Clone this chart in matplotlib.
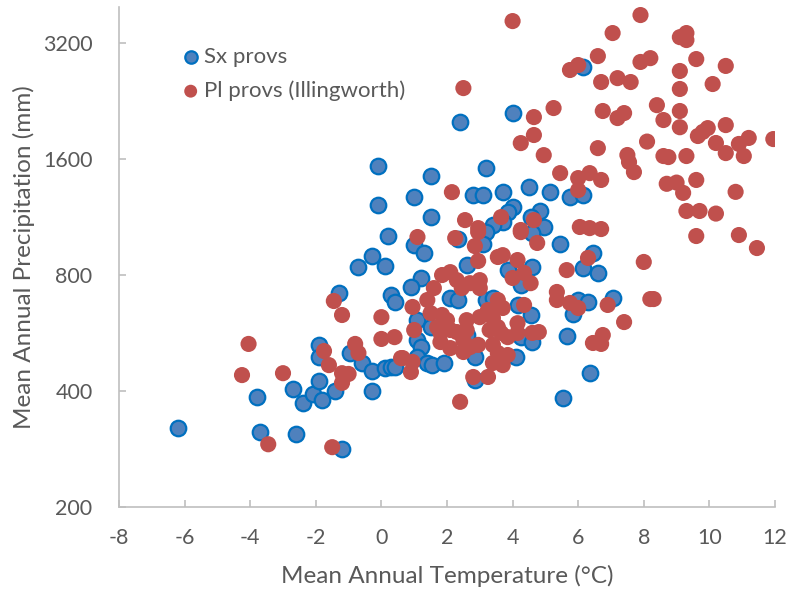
import matplotlib.pyplot as plt
from matplotlib.ticker import FixedLocator, NullLocator

# Datos
sx_temp = [-6.2, -3.8, -3.7, -2.6, -2.7, -2.4, -2.1, -1.8, -1.9, -1.4, -1.2, -0.3,
           -1.9, -1.9, -0.95, -0.6, -0.3, 0.1, 0.3, 0.4, -1.3, 0.3, 0.4, -0.7,
           -0.3, 0.1, -0.1, -0.1, 0.2, 1.0, 1.0, 1.3, 1.5, 1.5, 2.4, 1.2,
           0.9, 2.6, 2.35, 2.8, 3.1, 3.2, 3.7, 4.0, 4.5, 5.15, 5.75, 6.15,
           6.15, 4.0, 3.85, 3.7, 3.4, 3.2, 3.1, 4.85, 4.55, 4.95, 4.6, 5.45,
           6.45, 6.15, 6.6, 3.85, 4.6, 4.25, 2.1, 2.35, 3.2, 3.4, 4.15, 4.55,
           6.0, 6.3, 5.85, 7.05, 1.1, 1.5, 2.6, 4.25, 4.6, 5.65, 1.1, 1.2,
           2.85, 4.1, 1.1, 1.4, 1.55, 1.9, 2.85, 5.55, 6.35]
sx_prec = [320, 385, 313, 310, 405, 372, 393, 379, 425, 400, 283, 400,
           527, 490, 502, 473, 451, 459, 462, 462, 718, 710, 681, 839,
           896, 844, 1215, 1534, 1010, 1275, 957, 912, 1445, 1131, 1996, 786,
           745, 849, 992, 1290, 1290, 1516, 1313, 2106, 1353, 1313, 1275, 1290,
           2772, 1201, 1165, 1098, 1078, 1034, 963, 1172, 1131, 1066, 1028, 963,
           912, 834, 810, 824, 839, 754, 697, 689, 689, 697, 669, 630,
           689, 681, 634, 697, 611, 586, 559, 552, 536, 556, 542, 520,
           490, 490, 490, 473, 467, 473, 427, 384, 445]

pl_temp = [-4.25, -4.05, -3.0, -3.45, -1.5, -1.45, -1.2, 0.0, -1.75, -1.6, -0.8, -0.7,
           0.0, 0.4, 0.6, -1.2, -1.0, -1.2, 1.1, 2.25, 2.95, 4.25, 4.75, 2.85,
           2.95, 3.55, 3.7, 4.15, 5.65, 1.85, 2.1, 2.3, 2.45, 2.7, 3.0, 3.0,
           4.0, 4.35, 4.55, 1.6, 1.4, 3.55, 3.7, 4.35, 5.35, 5.35, 5.75, 6.0,
           0.95, 1.5, 1.85, 2.0, 2.6, 3.0, 3.25, 3.4, 3.55, 1.7, 1.8, 2.1,
           2.3, 2.6, 3.3, 3.65, 3.85, 4.15, 4.15, 4.6, 4.8, 1.0, 1.8, 2.1,
           2.5, 2.7, 2.95, 2.5, 3.4, 3.55, 3.85, 3.4, 3.7, 0.65, 0.95, 0.9,
           2.8, 3.25, 2.4, 2.15, 2.55, 2.95, 3.65, 4.65, 4.25, 6.05, 6.35, 6.7,
           6.3, 8.0, 5.25, 4.65, 4.65, 4.25, 4.95, 5.45, 6.0, 6.0, 2.5, 4.0,
           7.9, 7.05, 9.1, 9.3, 9.3, 6.6, 5.75, 6.0, 7.9, 8.2, 9.6, 10.5,
           6.7, 7.2, 7.6, 9.1, 9.1, 10.1, 8.4, 9.1, 6.75, 7.2, 7.4, 8.6,
           9.1, 9.65, 9.8, 9.95, 10.5, 10.9, 11.2, 11.95, 10.2, 10.5, 11.05, 6.6,
           8.1, 7.5, 7.55, 7.7, 8.6, 8.75, 9.3, 6.35, 6.7, 8.7, 9.0, 9.2,
           9.6, 10.8, 9.3, 9.7, 10.2, 9.6, 10.9, 11.45, 6.9, 8.2, 8.3, 7.4,
           6.45, 6.75, 6.7]
pl_prec = [440, 530, 445, 291, 286, 685, 630, 622, 508, 467, 530, 502,
           546, 552, 487, 445, 443, 420, 1004, 998, 1034, 1034, 969, 951,
           870, 891, 901, 875, 824, 800, 814, 776, 740, 762, 776, 740,
           786, 810, 762, 740, 689, 689, 657, 669, 723, 689, 677, 657,
           661, 637, 630, 611, 611, 622, 649, 619, 586, 586, 566, 576,
           569, 576, 576, 566, 552, 600, 566, 566, 569, 576, 536, 517,
           542, 520, 527, 505, 527, 502, 496, 473, 467, 487, 476, 448,
           435, 435, 375, 1313, 1111, 1059, 1131, 1111, 1047, 1066, 1059, 1053,
           886, 865, 2170, 2056, 1847, 1760, 1638, 1471, 1428, 1329, 2445, 3649,
           3783, 3397, 3315, 3397, 3258, 2960, 2724, 2806, 2858, 2924, 2908, 2791,
           2535, 2595, 2535, 2708, 2432, 2505, 2208, 2132, 2132, 2044, 2106, 2020,
           1935, 1836, 1882, 1925, 1960, 1751, 1815, 1803, 1761, 1658, 1629, 1708,
           1776, 1639, 1571, 1480, 1629, 1619, 1629, 1471, 1412, 1380, 1390, 1307,
           1412, 1315, 1173, 1173, 1155, 1010, 1016, 940, 669, 693, 693, 604,
           533, 559, 530]

x_ticks = [-8, -6, -4, -2, 0, 2, 4, 6, 8, 10, 12]
y_ticks = [200, 400, 800, 1600, 3200]

# Estilo
gris = "#595959"
eje = "#BFBFBF"
plt.rcParams["font.family"] = ["Lato", "DejaVu Sans"]

fig = plt.figure(figsize=(7.95, 5.96), dpi=100)
ax = fig.add_axes([0.1497, 0.1493, 0.8251, 0.839])

ax.scatter(sx_temp, sx_prec, s=125, color="#4F81BD", edgecolors="#0070C0",
           linewidths=1.6, label="Sx provs", zorder=2)
ax.scatter(pl_temp, pl_prec, s=135, color="#C0504D", edgecolors="none",
           label="Pl provs (Illingworth)", zorder=3)

ax.set_yscale("log", base=2)
ax.set_xlim(-8, 12)
ax.set_ylim(200, 3970)
ax.xaxis.set_major_locator(FixedLocator(x_ticks))
ax.yaxis.set_major_locator(FixedLocator(y_ticks))
ax.yaxis.set_minor_locator(NullLocator())
ax.set_xticklabels([str(v) for v in x_ticks])
ax.set_yticklabels([str(v) for v in y_ticks])

for lado in ["top", "right"]:
    ax.spines[lado].set_visible(False)
for lado in ["left", "bottom"]:
    ax.spines[lado].set_color(eje)
    ax.spines[lado].set_linewidth(1.2)
ax.tick_params(direction="in", length=5, width=1.2, color=eje,
               labelcolor=gris, labelsize=15.5)
ax.tick_params(axis="y", pad=19)
ax.tick_params(axis="x", pad=15)

ax.set_xlabel("Mean Annual Temperature (°C)", fontsize=17.5, color=gris, labelpad=12)
ax.set_ylabel("Mean Annual Precipitation (mm)", fontsize=17.5, color=gris, labelpad=6)

leg = ax.legend(loc="upper left", bbox_to_anchor=(0.072, 0.942), frameon=False,
                fontsize=16, handletextpad=0.0, handlelength=1.2, labelspacing=0.6,
                markerscale=0.8, borderpad=0)
for t in leg.get_texts():
    t.set_color(gris)

fig.savefig("out.png", dpi=100)
